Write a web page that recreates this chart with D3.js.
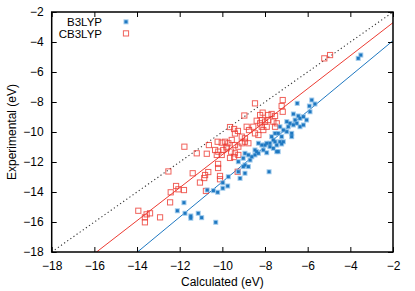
<!DOCTYPE html>
<html>
<head>
<meta charset="utf-8">
<script src="https://cdn.jsdelivr.net/npm/d3@7"></script>
<style>
html,body{margin:0;padding:0;background:#fff;}
svg{display:block;}
text{font-family:"Liberation Sans",Arial,sans-serif;font-size:12px;fill:#000;}
</style>
</head>
<body>
<svg id="chart" width="415" height="291"></svg>
<script>
// ---- data ----
const seriesNames = ["B3LYP", "CB3LYP"];
const xTicks = [-18, -16, -14, -12, -10, -8, -6, -4, -2];
const yTicks = [-18, -16, -14, -12, -10, -8, -6, -4, -2];

const b3lypCalc = [-5.81,-6.49,-5.92,-5.66,-6.67,-6.44,-6.36,-6.20,-6.05,-5.89,-6.59,-6.98,-6.83,-6.67,-6.91,-6.51,-6.36,-6.20,-7.30,-7.14,-6.98,-6.75,-7.38,-7.53,-7.22,-6.75,-7.61,-7.30,-7.92,-8.15,-7.77,-7.45,-7.69,-8.00,-7.77,-7.53,-7.22,-7.14,-8.39,-8.47,-8.31,-8.08,-7.92,-7.61,-7.38,-8.78,-8.62,-8.70,-9.02,-9.25,-8.94,-8.78,-9.02,-9.25,-8.94,-9.17,-9.72,-9.75,-7.81,-8.31,-8.47,-8.94,-7.45,-9.98,-9.98,-10.22,-10.42,-10.71,-11.80,-12.11,-11.75,-11.48,-11.48,-11.13,-10.97,-10.31,-3.63,-3.51];
const b3lypExp  = [-7.87,-8.09,-8.27,-8.13,-8.80,-8.93,-9.09,-8.98,-9.20,-8.65,-9.20,-9.31,-9.42,-9.53,-9.65,-9.42,-9.65,-9.53,-9.65,-9.87,-9.98,-10.09,-10.09,-10.09,-10.31,-10.31,-10.53,-10.65,-10.75,-10.87,-10.98,-10.87,-10.31,-10.87,-10.75,-10.65,-10.80,-10.65,-11.31,-11.53,-11.42,-11.20,-11.38,-11.09,-11.31,-11.53,-11.65,-11.87,-11.75,-11.98,-12.20,-12.31,-12.31,-12.65,-12.75,-13.09,-12.98,-13.60,-12.65,-10.75,-11.20,-11.42,-11.31,-13.38,-13.75,-14.02,-13.91,-13.87,-14.71,-15.25,-15.42,-15.60,-15.75,-15.42,-15.71,-16.02,-5.09,-4.87];

const cb3lypCalc = [-8.47,-8.97,-8.23,-9.64,-9.45,-9.27,-9.41,-8.86,-8.75,-8.55,-8.39,-8.23,-8.15,-8.08,-8.47,-8.31,-9.09,-8.94,-10.22,-10.03,-9.88,-9.72,-9.56,-10.63,-11.78,-9.41,-9.25,-9.09,-10.34,-10.19,-9.96,-9.80,-9.59,-11.20,-10.73,-10.26,-10.03,-9.41,-9.25,-9.64,-9.45,-8.94,-8.78,-9.80,-12.53,-11.39,-10.81,-10.85,-10.66,-11.05,-12.17,-12.06,-11.80,-12.42,-10.77,-12.45,-10.20,-10.20,-10.11,-10.11,-9.28,-13.94,-13.39,-13.55,-13.63,-12.92,-13.63,-7.17,-7.22,-7.17,-8.11,-7.85,-7.69,-7.53,-8.15,-8.00,-7.85,-7.61,-7.45,-7.53,-7.92,-5.22,-4.95];
const cb3lypExp  = [-8.09,-8.90,-8.87,-9.67,-9.80,-9.93,-10.10,-9.65,-9.87,-9.65,-9.25,-9.42,-9.65,-9.87,-10.09,-10.20,-10.31,-10.42,-10.65,-10.71,-10.65,-10.75,-10.53,-10.87,-10.98,-10.87,-10.98,-10.75,-11.20,-11.31,-11.20,-11.09,-11.31,-11.42,-11.45,-11.53,-11.53,-11.42,-11.53,-11.73,-11.67,-10.65,-10.75,-10.98,-12.63,-12.75,-12.87,-13.07,-12.67,-13.37,-13.60,-13.82,-13.87,-14.02,-13.93,-14.69,-12.13,-12.40,-12.93,-13.15,-12.65,-15.25,-15.42,-15.49,-15.69,-15.69,-16.02,-7.87,-8.27,-8.65,-8.71,-8.87,-8.80,-8.93,-9.20,-9.31,-9.20,-9.31,-9.42,-9.65,-9.65,-5.09,-4.87];

// linear fits (slope, intercept) and the y = x reference
const fitSlopes = [1.176, 1.10];
const fitIntercepts = [-1.56, -0.51];

// ---- drawing ----
const svg = d3.select("#chart");
const L = 51.7, R = 393, T = 12, B = 252;
const x = d3.scaleLinear().domain([-18, -2]).range([L, R]);
const y = d3.scaleLinear().domain([-18, -2]).range([B, T]);

const blue = "#1f78c1", blueLight = "#86bbe6", red = "#ec3b32";
const colors = [blue, red];

svg.append("defs").append("clipPath").attr("id", "clip")
  .append("rect").attr("x", L).attr("y", T).attr("width", R - L).attr("height", B - T);

const plot = svg.append("g").attr("clip-path", "url(#clip)");

const lineGen = d3.line().x(d => x(d[0])).y(d => y(d[1]));
// y = x dotted line
plot.append("path")
  .attr("d", lineGen([[-18, -18], [-2, -2]]))
  .attr("stroke", "#333").attr("stroke-width", 1.1)
  .attr("stroke-dasharray", "1.2,2.6").attr("fill", "none");

// fit lines
fitSlopes.forEach((m, i) => {
  const b = fitIntercepts[i];
  plot.append("path")
    .attr("d", lineGen([[-20, m * -20 + b], [-2, m * -2 + b]]))
    .attr("stroke", colors[i]).attr("stroke-width", 1).attr("fill", "none");
});

// CB3LYP open squares
const red2 = d3.zip(cb3lypCalc, cb3lypExp);
plot.append("g").selectAll("rect").data(red2).join("rect")
  .attr("x", d => x(d[0]) - 2.6).attr("y", d => y(d[1]) - 2.6)
  .attr("width", 5.2).attr("height", 5.2)
  .attr("fill", "none").attr("stroke", red).attr("stroke-width", 1).attr("stroke-opacity", 0.8);

// B3LYP small filled squares
const blue2 = d3.zip(b3lypCalc, b3lypExp);
const bg = plot.append("g");
bg.selectAll("rect.h").data(blue2).join("rect").attr("class", "h")
  .attr("x", d => x(d[0]) - 2.5).attr("y", d => y(d[1]) - 2.5)
  .attr("width", 5).attr("height", 5).attr("fill", blueLight).attr("opacity", 0.8);
bg.selectAll("rect.c").data(blue2).join("rect").attr("class", "c")
  .attr("x", d => x(d[0]) - 1.5).attr("y", d => y(d[1]) - 1.5)
  .attr("width", 3).attr("height", 3).attr("fill", blue);

// axes
const axB = d3.axisBottom(x).tickValues(xTicks).tickSizeInner(-5).tickSizeOuter(0).tickPadding(9)
  .tickFormat(d3.format("d"));
const axL = d3.axisLeft(y).tickValues(yTicks).tickSizeInner(-5).tickSizeOuter(0).tickPadding(8)
  .tickFormat(d3.format("d"));
const axT = d3.axisTop(x).tickValues(xTicks).tickSizeInner(-5).tickSizeOuter(0).tickFormat("");
const axR = d3.axisRight(y).tickValues(yTicks).tickSizeInner(-5).tickSizeOuter(0).tickFormat("");

function styleAxis(g) {
  g.select(".domain").remove();
  g.selectAll(".tick line").attr("stroke", "#000").attr("stroke-width", 1);
  g.selectAll(".tick text").attr("font-family", "Liberation Sans, Arial, sans-serif")
    .attr("font-size", 12).attr("fill", "#000");
}
svg.append("g").attr("transform", `translate(0,${B})`).call(axB).call(styleAxis);
svg.append("g").attr("transform", `translate(${L},0)`).call(axL).call(styleAxis);
svg.append("g").attr("transform", `translate(0,${T})`).call(axT).call(styleAxis);
svg.append("g").attr("transform", `translate(${R},0)`).call(axR).call(styleAxis);

// frame
svg.append("rect").attr("x", L).attr("y", T).attr("width", R - L).attr("height", B - T)
  .attr("fill", "none").attr("stroke", "#000").attr("stroke-width", 1.5);

// axis titles
svg.append("text").attr("x", (L + R) / 2).attr("y", 286).attr("text-anchor", "middle")
  .text("Calculated (eV)");
svg.append("text").attr("transform", `translate(16,${(T + B) / 2}) rotate(-90)`)
  .attr("text-anchor", "middle").text("Experimental (eV)");

// legend
const leg = svg.append("g");
seriesNames.forEach((name, i) => {
  const ly = 21.8 + i * 11.6;
  leg.append("text").attr("x", 102).attr("y", ly).attr("dy", "0.36em")
    .attr("text-anchor", "end").style("font-size", "11.5px").text(name);
  if (i === 0) {
    leg.append("rect").attr("x", 123.5).attr("y", ly - 2.5).attr("width", 5).attr("height", 5)
      .attr("fill", blueLight).attr("opacity", 0.8);
    leg.append("rect").attr("x", 124.5).attr("y", ly - 1.5).attr("width", 3).attr("height", 3)
      .attr("fill", blue);
  } else {
    leg.append("rect").attr("x", 126 - 2.6).attr("y", ly - 2.6).attr("width", 5.2).attr("height", 5.2)
      .attr("fill", "none").attr("stroke", red).attr("stroke-width", 1).attr("stroke-opacity", 0.8);
  }
});
</script>
</body>
</html>
